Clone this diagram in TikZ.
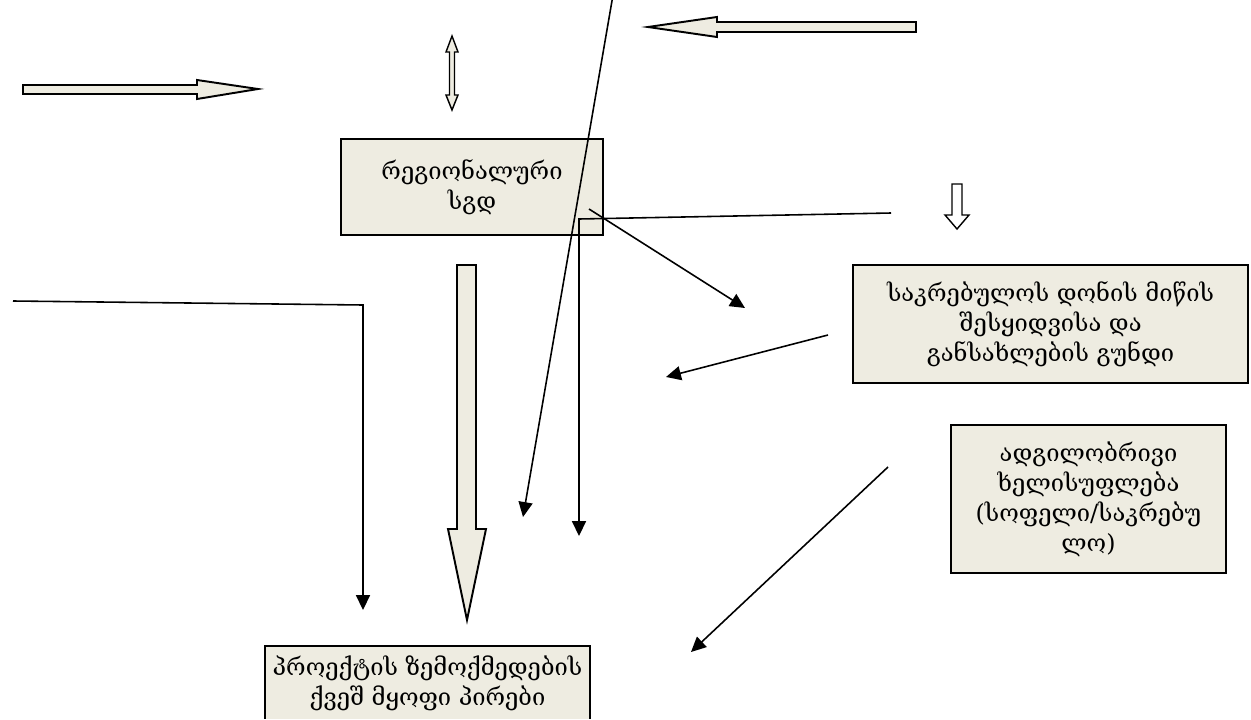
\documentclass[tikz,border=0pt]{standalone}
\usepackage{fontspec}
\setmainfont{DejaVu Serif}
\usetikzlibrary{arrows.meta, positioning}
\definecolor{boxfill}{HTML}{EEECE1}

\begin{document}
\begin{tikzpicture}[
    x=0.02cm, y=-0.02cm,
    every node/.style={font=\fontsize{13.5}{17}\selectfont},
    box/.style={draw, line width=1.1pt, fill=boxfill, align=center, inner sep=0pt},
    blockarrow/.style={draw, line width=1.1pt, fill=boxfill, line join=miter},
    hollowarrow/.style={draw, line width=0.8pt, fill=white, line join=miter},
    link/.style={line width=0.9pt, -{Triangle[length=8.5pt, width=8pt]}}
]
    \useasboundingbox (0,0) rectangle (1251,720);
    \clip (0,0) rectangle (1251,718.5);

    % --- boxes ---
    \node[box, minimum width=5.24cm, minimum height=1.92cm] (region) at (472,187) {რეგიონალური\\სგდ};
    \node[box, minimum width=7.9cm, minimum height=2.36cm] (team) at (1050.5,324) {საკრებულოს დონის მიწის\\შესყიდვისა და\\განსახლების გუნდი};
    \node[box, minimum width=5.5cm, minimum height=2.96cm] (local) at (1088.5,499) {ადგილობრივი\\ხელისუფლება\\(სოფელი/საკრებუ\\ლო)};
    \node[box, minimum width=6.5cm, minimum height=1.48cm] (people) at (427.5,683) {პროექტის ზემოქმედების\\ქვეშ მყოფი პირები};

    % --- block arrows ---
    \draw[blockarrow] (23,85) -- (197,85) -- (197,80) -- (258,89) -- (197,99) -- (197,94) -- (23,94) -- cycle;
    \draw[blockarrow] (916,22) -- (717,22) -- (717,17) -- (648,27) -- (717,37) -- (717,32) -- (916,32) -- cycle;
    \draw[blockarrow, line width=0.8pt] (452,36) -- (458,52) -- (454.5,52) -- (454.5,95) -- (458,95) -- (452,110)
        -- (446,95) -- (449.5,95) -- (449.5,52) -- (446,52) -- cycle;
    \draw[blockarrow] (457,265) -- (476,265) -- (476,529) -- (486,529) -- (467,620) -- (448,529) -- (457,529) -- cycle;
    \draw[hollowarrow] (952,184) -- (962,184) -- (962,215) -- (969,215) -- (957,229) -- (945,215) -- (952,215) -- cycle;

    % --- free ends of the connectors ---
    \coordinate (topfree) at (613,-5);
    \coordinate (diagend) at (523,517);
    \coordinate (hstart) at (891,213);
    \coordinate (hcorner) at (579,219);
    \coordinate (vend) at (579,536);
    \coordinate (dstart) at (589,209);
    \coordinate (dend) at (745,308);
    \coordinate (tstart) at (828,335);
    \coordinate (tend) at (666,377);
    \coordinate (lstart) at (888,467);
    \coordinate (lend) at (691,652);
    \coordinate (estart) at (13,301);
    \coordinate (ecorner) at (363,305);
    \coordinate (eend) at (363,610);

    % --- connectors ---
    \draw[link] (topfree) -- (diagend);
    \draw[link] (hstart) -- (hcorner) -- (vend);
    \draw[link] (dstart) -- (dend);
    \draw[link] (tstart) -- (tend);
    \draw[link] (lstart) -- (lend);
    \draw[link] (estart) -- (ecorner) -- (eend);

\end{tikzpicture}
\end{document}
